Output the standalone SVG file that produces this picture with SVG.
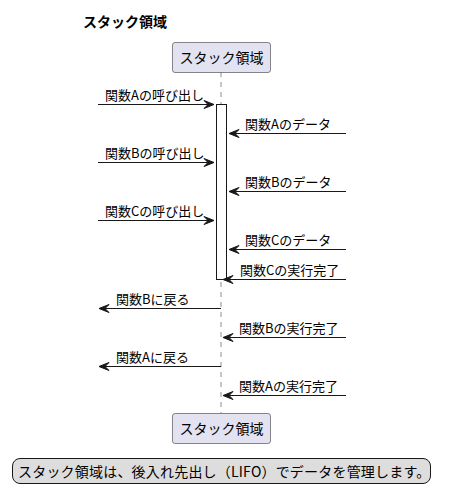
<svg xmlns="http://www.w3.org/2000/svg" width="449" height="502" viewBox="0 0 449 502">
<defs>
<style>
text{font-family:"Noto Sans CJK JP","Noto Sans",sans-serif;fill:#000000}
.msg{font-size:13px}
.part{font-size:14px}
.title{font-size:14px;font-weight:bold}
.pbox{fill:#E2E2F0;stroke:#181818;stroke-width:0.5}
.line{stroke:#181818;stroke-width:1;fill:none}
.life{stroke:#181818;stroke-width:0.5;stroke-dasharray:5,5;fill:none}
.ah{fill:#181818;stroke:#181818;stroke-width:1}
</style>
</defs>
<rect width="449" height="502" fill="#FFFFFF"/>
<text class="title" x="83" y="27">スタック領域</text>
<line class="life" x1="221" y1="72" x2="221" y2="413"/>
<g id="participant-top">
<rect class="pbox" x="172.5" y="42.5" width="98" height="30" rx="2.5"/>
<text class="part" x="221.5" y="62.5" text-anchor="middle">スタック領域</text>
</g>
<g id="participant-bottom">
<rect class="pbox" x="172.5" y="413.5" width="98" height="30" rx="2.5"/>
<text class="part" x="221.5" y="433.5" text-anchor="middle">スタック領域</text>
</g>
<g id="activation">
<rect x="216.5" y="104.5" width="10" height="175" fill="#FFFFFF" stroke="#181818" stroke-width="1"/>
</g>
<g id="connectors">
<line class="line" x1="98" y1="104.5" x2="214" y2="104.5"/>
<polygon class="ah" points="204,100.5 214,104.5 204,108.5 208,104.5"/>
<text class="msg" x="105" y="100">関数Aの呼び出し</text>

<line class="line" x1="346" y1="133.5" x2="229" y2="133.5"/>
<polygon class="ah" points="239,129.5 229,133.5 239,137.5 235,133.5"/>
<text class="msg" x="245" y="129">関数Aのデータ</text>

<line class="line" x1="98" y1="162.5" x2="214" y2="162.5"/>
<polygon class="ah" points="204,158.5 214,162.5 204,166.5 208,162.5"/>
<text class="msg" x="105" y="158">関数Bの呼び出し</text>

<line class="line" x1="346" y1="191.5" x2="229" y2="191.5"/>
<polygon class="ah" points="239,187.5 229,191.5 239,195.5 235,191.5"/>
<text class="msg" x="245" y="187">関数Bのデータ</text>

<line class="line" x1="98" y1="220.5" x2="214" y2="220.5"/>
<polygon class="ah" points="204,216.5 214,220.5 204,224.5 208,220.5"/>
<text class="msg" x="105" y="216">関数Cの呼び出し</text>

<line class="line" x1="346" y1="249.5" x2="229" y2="249.5"/>
<polygon class="ah" points="239,245.5 229,249.5 239,253.5 235,249.5"/>
<text class="msg" x="245" y="245">関数Cのデータ</text>

<line class="line" x1="346" y1="279.5" x2="223" y2="279.5"/>
<polygon class="ah" points="233,275.5 223,279.5 233,283.5 229,279.5"/>
<text class="msg" x="240" y="275">関数Cの実行完了</text>

<line class="line" x1="221" y1="308.5" x2="99" y2="308.5"/>
<polygon class="ah" points="109,304.5 99,308.5 109,312.5 105,308.5"/>
<text class="msg" x="116" y="304">関数Bに戻る</text>

<line class="line" x1="346" y1="337.5" x2="223" y2="337.5"/>
<polygon class="ah" points="233,333.5 223,337.5 233,341.5 229,337.5"/>
<text class="msg" x="239" y="333">関数Bの実行完了</text>

<line class="line" x1="221" y1="366.5" x2="99" y2="366.5"/>
<polygon class="ah" points="109,362.5 99,366.5 109,370.5 105,366.5"/>
<text class="msg" x="116" y="362">関数Aに戻る</text>

<line class="line" x1="346" y1="395.5" x2="223" y2="395.5"/>
<polygon class="ah" points="233,391.5 223,395.5 233,399.5 229,395.5"/>
<text class="msg" x="239" y="391">関数Aの実行完了</text>
</g>
<g id="legend">
<rect x="12.5" y="458.5" width="418" height="25" rx="7.5" fill="#DDDDDD" stroke="#181818" stroke-width="1"/>
<text x="18" y="476.5" style="font-size:14px;letter-spacing:0.2px">スタック領域は、後入れ先出し（LIFO）でデータを管理します。</text>
</g>
</svg>
